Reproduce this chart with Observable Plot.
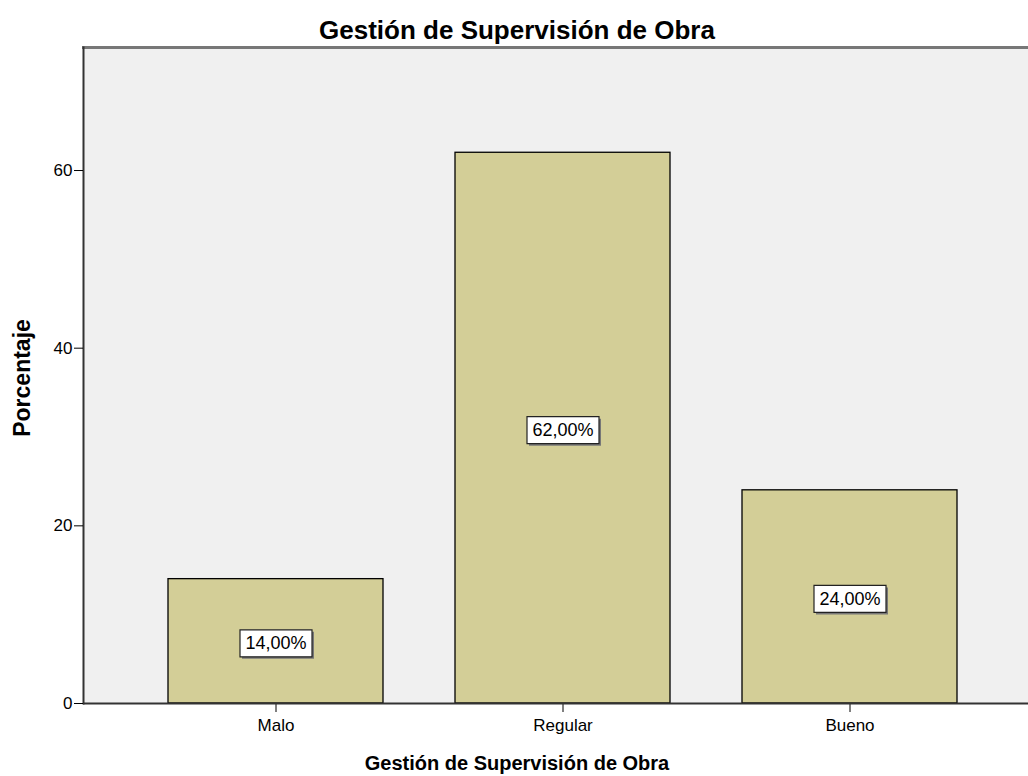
<!DOCTYPE html>
<html><head><meta charset="utf-8">
<script src="https://cdn.jsdelivr.net/npm/d3@7"></script>
<script src="https://cdn.jsdelivr.net/npm/@observablehq/plot@0.6"></script>
<style>body{margin:0;background:#fff;} #chart{width:1028px;height:776px;overflow:hidden}</style>
</head><body><div id="chart"></div>
<script>
const categories = ["Malo", "Regular", "Bueno"];
const percentages = [14, 62, 24];
const yTicks = [0, 20, 40, 60];
const titleText = "Gestión de Supervisión de Obra";
const xLabel = "Gestión de Supervisión de Obra";
const yLabel = "Porcentaje";

const data = categories.map((c, i) => ({category: c, value: percentages[i]}));
const fmt = v => v.toFixed(2).replace(".", ",") + "%";
const boxW = 72, boxH = 27;
const boxSymbol = {draw(ctx) {
  ctx.moveTo(-boxW / 2, -boxH / 2); ctx.lineTo(boxW / 2, -boxH / 2);
  ctx.lineTo(boxW / 2, boxH / 2); ctx.lineTo(-boxW / 2, boxH / 2); ctx.closePath();
}};
const yMax = 73.85;
const font = "'Liberation Sans', Arial, sans-serif";

const plot = Plot.plot({
  width: 1028, height: 776,
  marginLeft: 83, marginRight: 0, marginTop: 47, marginBottom: 73,
  style: {fontFamily: font, fontSize: "17px", background: "white", color: "black"},
  x: {domain: categories, range: [83, 1041], paddingInner: 0.252, paddingOuter: 0.29, label: null},
  y: {domain: [0, yMax], range: [703, 47], label: null},
  marks: [
    Plot.frame({fill: "#f0f0f0", stroke: null}),
    Plot.barY(data, {x: "category", y: "value", fill: "#d3ce97", stroke: "black", strokeWidth: 1.3}),
    Plot.dot(data, {x: "category", y: d => d.value / 2, dx: 2, dy: 4, symbol: boxSymbol, fill: "#777", stroke: "none", r: 5}),
    Plot.dot(data, {x: "category", y: d => d.value / 2, dy: 2, symbol: boxSymbol, fill: "white", stroke: "#222", strokeWidth: 1.2, r: 5}),
    Plot.text(data, {x: "category", y: d => d.value / 2, dy: 2, text: d => fmt(d.value), fontSize: 18, fill: "black"}),
    Plot.frame({anchor: "top", stroke: "#777", strokeWidth: 3}),
    Plot.frame({anchor: "left", stroke: "#333", strokeWidth: 2}),
    Plot.axisY({ticks: yTicks, tickSize: 9, tickPadding: 2, label: null, fontSize: 17, tickFormat: d => d}),
    Plot.axisX({tickSize: 9, tickPadding: 6, label: null, fontSize: 17}),
    Plot.ruleY([0], {stroke: "#333", strokeWidth: 2})
  ]
});
document.getElementById("chart").appendChild(plot);
const svg = d3.select(plot);
svg.append("text").attr("x", 517).attr("y", 39).attr("text-anchor", "middle")
  .attr("font-family", font).attr("font-weight", "bold").attr("font-size", 26).attr("fill", "black").text(titleText);
svg.append("text").attr("x", 517).attr("y", 770).attr("text-anchor", "middle")
  .attr("font-family", font).attr("font-weight", "bold").attr("font-size", 20).attr("fill", "black").text(xLabel);
svg.append("text").attr("transform", "translate(30,378) rotate(-90)").attr("text-anchor", "middle")
  .attr("font-family", font).attr("font-weight", "bold").attr("font-size", 23).attr("fill", "black").text(yLabel);
</script></body></html>
